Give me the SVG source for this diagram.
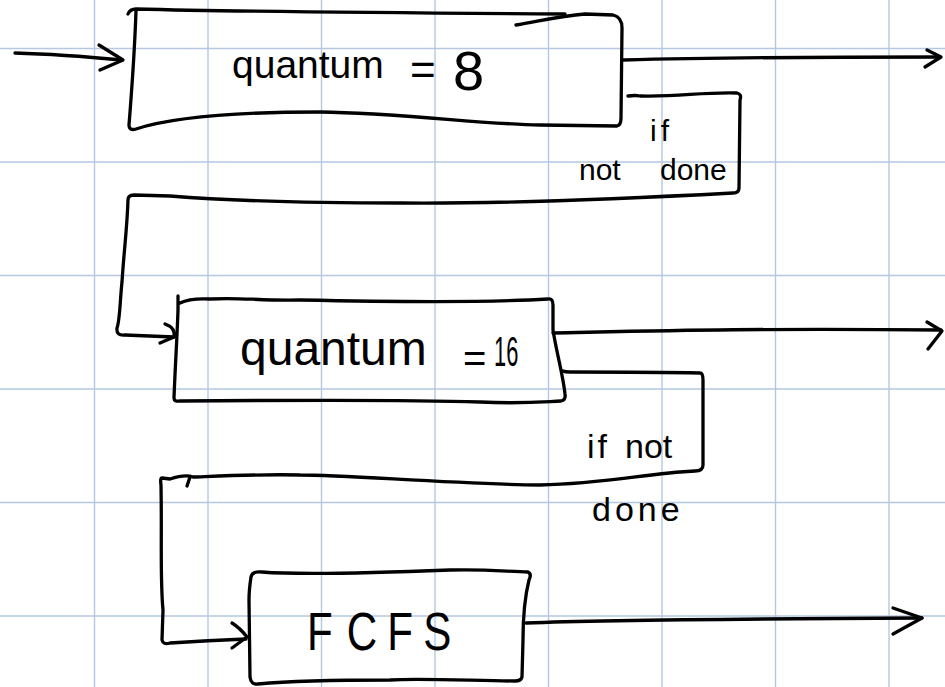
<svg xmlns="http://www.w3.org/2000/svg" width="945" height="687" viewBox="0 0 945 687">
  <style>
    .grid line { stroke: #b5c7e1; stroke-width: 1.4; }
    .ink { fill: none; stroke: #000; stroke-width: 3.3; stroke-linecap: round; stroke-linejoin: round; }
    .hand { font-family: "Liberation Sans", "DejaVu Sans", sans-serif; fill: #000; }
  </style>

  <rect width="945" height="687" fill="#fff"/>

  <!-- squared paper -->
  <g class="grid">
    <line x1="94.5" y1="0" x2="94.5" y2="687"/>
    <line x1="208" y1="0" x2="208" y2="687"/>
    <line x1="321.5" y1="0" x2="321.5" y2="687"/>
    <line x1="435" y1="0" x2="435" y2="687"/>
    <line x1="548.5" y1="0" x2="548.5" y2="687"/>
    <line x1="662" y1="0" x2="662" y2="687"/>
    <line x1="775.5" y1="0" x2="775.5" y2="687"/>
    <line x1="889" y1="0" x2="889" y2="687"/>
    <line x1="0" y1="48.5" x2="945" y2="48.5"/>
    <line x1="0" y1="162" x2="945" y2="162"/>
    <line x1="0" y1="275.5" x2="945" y2="275.5"/>
    <line x1="0" y1="389" x2="945" y2="389"/>
    <line x1="0" y1="502.5" x2="945" y2="502.5"/>
    <line x1="0" y1="616" x2="945" y2="616"/>
  </g>

  <!-- queues -->
  <g id="queue-q8">
    <path class="ink" d="M128,14 Q130,9 136,9 C250,12 400,13 565,14"/>
    <path class="ink" d="M136,11 C135,40 131,100 129,125 Q129,131 136,129 C170,118 230,112 320,112 C400,113 480,124 540,125 L617,126 Q621,125 621,118 L622,28 Q622,17 613,15 L585,14 C560,16 540,21 516,25"/>
    <text class="hand">
      <tspan x="232" y="78" font-size="39">quantum</tspan>
      <tspan x="410" y="85" font-size="44">=</tspan>
      <tspan x="453" y="90" font-size="56">8</tspan>
    </text>
  </g>

  <g id="queue-q16">
    <path class="ink" d="M178,296 L178,310 C177,340 175,370 174,398 Q174,402 180,401 C300,400 420,400 480,402 C520,404 540,402 561,401 Q566,400 565,394 C563,375 556,350 553,330 L553,305 Q553,298 548,299 C500,302 400,302 300,300 C260,301 240,297 210,299 Q190,298 180,303"/>
    <text class="hand">
      <tspan x="240" y="365" font-size="48">quantum</tspan>
      <tspan x="463" y="372" font-size="40">=</tspan>
    </text>
    <text class="hand" transform="translate(494 366) scale(0.52 1)" x="0" y="0" font-size="42">16</text>
  </g>

  <g id="queue-fcfs">
    <path class="ink" d="M251,577 Q252,571 262,572 C300,575 400,572 450,570 C490,569 510,572 528,572 Q532,574 529,580 C524,600 523,620 523,640 L522,677 Q521,681 515,681 C480,681 420,678 390,680 C330,680 290,681 258,684 Q251,685 250,677 L249,600 Q249,590 251,577"/>
    <text class="hand" transform="translate(307 650) scale(0.78 1)" x="0 51 103 149" y="0" font-size="54">FCFS</text>
  </g>

  <!-- flows between queues -->
  <g id="connectors">
    <!-- arrival -->
    <path class="ink" d="M15,53 C50,54 90,57 122,60"/>
    <path class="ink" d="M99,45 L123,60 L100,70"/>

    <!-- exits -->
    <path class="ink" d="M623,60 C700,58 800,57 940,57"/>
    <path class="ink" d="M927,50 L941,57 L925,67"/>
    <path class="ink" d="M553,333 C650,331 750,328 941,330"/>
    <path class="ink" d="M927,322 L942,331 L928,349"/>
    <path class="ink" d="M526,623 C600,620 700,619 922,618"/>
    <path class="ink" d="M893,608 L922,618 L893,634"/>

    <!-- demotion q8 -> q16 -->
    <path class="ink" d="M628,96 Q635,95 640,96 C680,97 700,92 737,93 Q742,94 740,100 L739,188 Q739,193 733,193 C600,200 500,204 400,203 C300,203 220,200 170,196 L134,195 Q128,195 128,200 C127,230 124,250 122,282 C120,300 120,320 117,328 Q116,336 125,335 L174,337"/>
    <path class="ink" d="M165,324 Q176,328 174,337 L160,343"/>

    <!-- demotion q16 -> FCFS -->
    <path class="ink" d="M563,371 Q565,372 570,372 C620,372 660,372 700,373 Q703,373 703,380 L703,465 Q703,471 695,471 L680,472 C640,475 600,484 540,485 C450,484 350,475 300,475 C260,474 220,476 193,477 Q185,474 170,479 L162,478 Q160,478 161,485 C162,540 160,580 163,610 L162,640 Q163,645 170,643 C200,641 220,640 246,639"/>
    <path class="ink" d="M190,477 L187,486"/>
    <path class="ink" d="M232,623 Q240,628 247,637 L232,648"/>
  </g>

  <!-- branch conditions -->
  <g id="labels">
    <text class="hand" font-size="30">
      <tspan x="650" y="141" letter-spacing="4">if</tspan>
      <tspan x="579" y="180">not</tspan>
      <tspan x="660" y="180">done</tspan>
    </text>
    <text class="hand" font-size="34">
      <tspan x="587" y="458" letter-spacing="3">if</tspan>
      <tspan x="625" y="458">not</tspan>
      <tspan x="592" y="521" letter-spacing="4">done</tspan>
    </text>
  </g>
</svg>
